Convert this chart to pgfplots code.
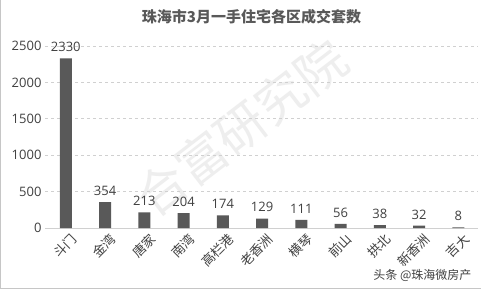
\documentclass[border=0pt]{standalone}
\usepackage{pgfplots}
\pgfplotsset{compat=1.18}
\usepackage{fontspec}
\setmainfont{Noto Sans CJK SC}
\newfontfamily\numfont{Open Sans}
\definecolor{barc}{HTML}{595959}
\definecolor{txtc}{HTML}{404040}
\definecolor{gridc}{HTML}{D0D0D0}
\begin{document}
\begin{tikzpicture}
\path[use as bounding box, fill=white] (-45pt,-61pt) rectangle (436pt,228pt);
\draw[gray!45, line width=1pt] (-44.5pt,-60.5pt) -- (-44.5pt,228pt);
\draw[gray!45, line width=1pt] (-45pt,-60.5pt) -- (436pt,-60.5pt);
\node[rotate=37.5, text=gray!13, font=\fontsize{50}{60}\selectfont] at (196pt,100pt) {合富研究院};
\begin{axis}[
  at={(0pt,0pt)}, anchor=south west,
  scale only axis, width=433pt, height=182pt,
  xmin=-0.53, xmax=10.5, ymin=0, ymax=2500,
  ytick={0,500,1000,1500,2000,2500},
  xtick={0,...,10},
  xticklabels={斗门,金湾,唐家,南湾,高栏港,老香洲,横琴,前山,拱北,新香洲,吉大},
  xticklabel style={rotate=45, anchor=north east, inner sep=1pt, font=\fontsize{13}{14}\selectfont, text=txtc, xshift=4pt, yshift=-2pt},
  yticklabel style={font=\numfont\fontsize{13}{14}\selectfont, text=txtc},
  /pgf/number format/assume math mode=true,
  /pgf/number format/1000 sep={},
  axis line style={draw=none},
  axis x line*=bottom,
  tick style={draw=none},
  xmajorgrids=false,
  ymajorgrids, grid style={draw=gridc, dashed, line width=0.6pt},
  ybar, bar width=12pt,
  nodes near coords,
  every node near coord/.append style={font=\numfont\fontsize{13}{14}\selectfont, text=txtc, yshift=3pt},
  title={珠海市3月一手住宅各区成交套数},
  title style={font=\bfseries\fontsize{15}{18}\selectfont, text=barc, yshift=12pt, xshift=-10pt},
  clip=false,
]
\draw[gridc, line width=0.8pt] (axis cs:-0.53,0) -- (axis cs:10.5,0);
\addplot[fill=barc, draw=none] coordinates {
(0,2330) (1,354) (2,213) (3,204) (4,174) (5,129) (6,111) (7,56) (8,38) (9,32) (10,8)};
\end{axis}
\node[anchor=east, text=txtc, font=\fontsize{12}{14}\selectfont] at (430pt,-47pt) {头条 @珠海微房产};
\end{tikzpicture}
\end{document}
